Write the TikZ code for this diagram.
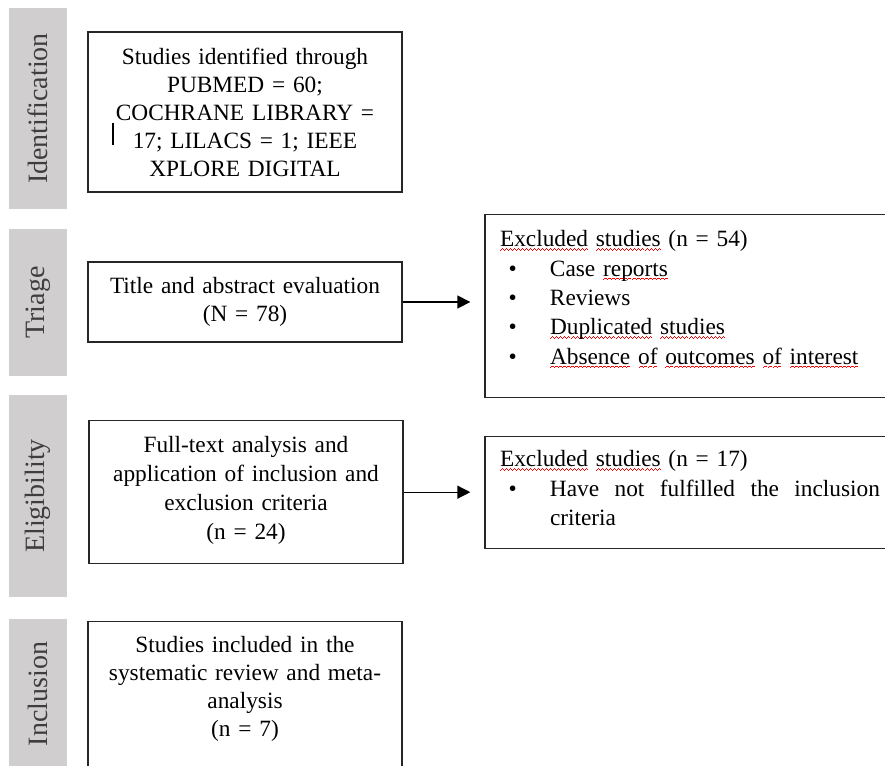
\documentclass[tikz,border=0pt]{standalone}
\usepackage{fontspec}
\setmainfont{Liberation Serif}
\usetikzlibrary{arrows.meta}

\definecolor{barfill}{RGB}{208,206,206}
\definecolor{bartext}{RGB}{64,61,61}

% red spell-check squiggle under a word
\newcommand\wavebit{\hbox{\rule[-3.0pt]{0.75pt}{0.8pt}\rule[-2.5pt]{0.75pt}{0.8pt}\rule[-2.0pt]{0.75pt}{0.8pt}\rule[-2.5pt]{0.75pt}{0.8pt}}}
\newcommand\spellerr[1]{\setbox0\hbox{#1}\rlap{\color{red}\xleaders\wavebit\hskip\wd0}\box0\relax}
% bullet with hanging indent
\newcommand\itm{\makebox[37.5pt][l]{\hspace{6.5pt}\textbullet}}

\begin{document}
\begin{tikzpicture}[x=0.75pt, y=-0.75pt,
    bar/.style={fill=barfill, rotate=90, minimum height=43.3pt, inner sep=0pt,
        text=bartext, font=\fontsize{21pt}{24pt}\selectfont},
    box/.style={draw=black!85, line width=1pt, minimum width=235.5pt, text width=228pt,
        align=center, inner xsep=3.75pt, inner ysep=0pt, font=\fontsize{17.5pt}{21pt}\selectfont},
    exbox/.style={draw=black!85, line width=1pt, minimum width=307.5pt, text width=285pt,
        align=left, inner sep=0pt, anchor=north, font=\fontsize{17.5pt}{22pt}\selectfont},
    arr/.style={-{Triangle[length=9.75pt, width=9.75pt]}, line width=1pt, shorten >=10.5pt}]
    \useasboundingbox (0,0) rectangle (885,765);

    % phase bars
    \node[bar, minimum width=150.75pt] (idlab) at (38,108.5) {Identification};
    \node[bar, minimum width=110.25pt] (trlab) at (38,302.5) {Triage};
    \node[bar, minimum width=151.5pt] (ellab) at (38,496) {Eligibility};
    \node[bar, minimum width=112pt] (inlab) at (38,694) {Inclusion};

    % identification
    \node[box, minimum height=120pt] (ident) at (245,112)
        {Studies identified through\\PUBMED = 60;\\COCHRANE LIBRARY =\\17; LILACS = 1; IEEE\\XPLORE DIGITAL};
    \draw[line width=1pt] (113,123) -- (113,145);

    % triage
    \node[box, minimum height=60pt] (triage) at (245,302)
        {Title and abstract evaluation\\(N = 78)};
    \node[exbox, text height=24pt, text depth=113.25pt] (excl1) at (690,214)
        {\spellerr{Excluded} \spellerr{studies} (n = 54)\\
         \itm Case \spellerr{reports}\\
         \itm Reviews\\
         \itm \spellerr{Duplicated} \spellerr{studies}\\
         \itm \spellerr{Absence} \spellerr{of} \spellerr{outcomes} \spellerr{of} \spellerr{interest}};
    \draw[arr] (triage) -- (triage -| excl1.west);

    % eligibility
    \node[box, anchor=north, text height=23.5pt, text depth=83.75pt,
        font=\fontsize{17.5pt}{21.75pt}\selectfont] (elig) at (246,420)
        {Full-text analysis and\\application of inclusion and\\exclusion criteria\\(n = 24)};
    \node[exbox, text height=22.5pt, text depth=61.5pt] (excl2) at (690,436)
        {\spellerr{Excluded} \spellerr{studies} (n = 17)\\
         \itm\hbox to 247.5pt{Have\hfil not\hfil fulfilled\hfil the\hfil inclusion}\\
         \hspace*{37.5pt}criteria};
    \draw[arr] (elig) -- (elig -| excl2.west);

    % inclusion
    \node[box, anchor=north, inner ysep=11.25pt, text depth=100pt] (incl) at (245,621)
        {Studies included in the\\systematic review and meta-\\analysis\\(n = 7)};
\end{tikzpicture}
\end{document}
